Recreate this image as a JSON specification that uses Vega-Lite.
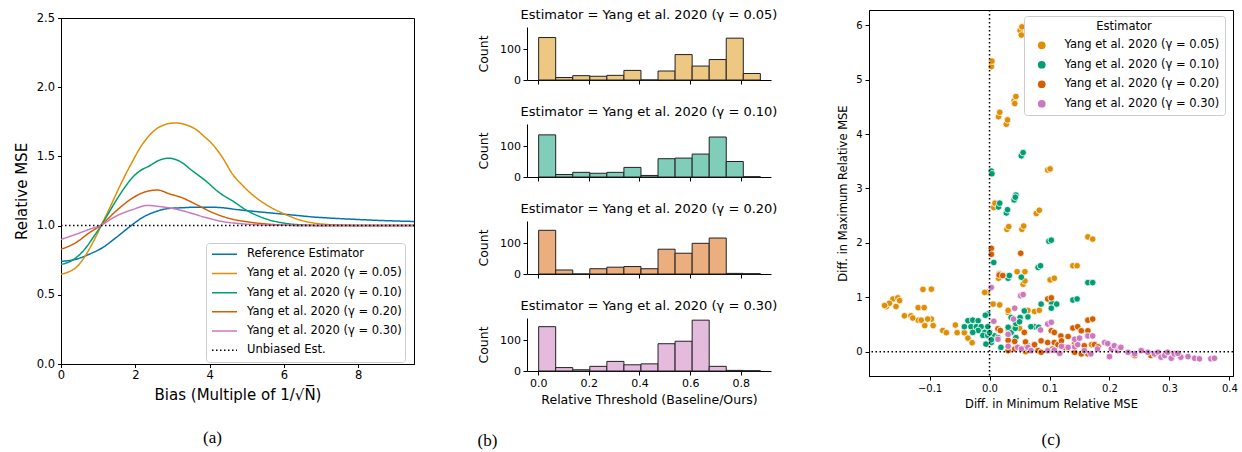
{
  "$schema": "https://vega.github.io/schema/vega-lite/v6.json",
  "background": "white",
  "padding": {"left": 13, "top": 0, "right": 2, "bottom": 2},
  "spacing": 59,
  "config": {
    "font": "DejaVu Sans",
    "view": {"stroke": null},
    "axis": {"grid": false, "domainColor": "#000", "tickColor": "#000", "labelColor": "#000", "titleColor": "#000", "titleFontWeight": "normal", "labelFont": "DejaVu Sans", "titleFont": "DejaVu Sans", "labelFlush": false, "labelBound": false, "labelOverlap": false},
    "title": {"fontWeight": "normal", "color": "#000"},
    "legend": {"labelColor": "#000", "titleColor": "#000", "labelFont": "DejaVu Sans", "titleFont": "DejaVu Sans"}
  },
  "datasets": {
    "none": [],
    "curves": [
      {"s":"Reference Estimator","x":0,"y":0.742},{"s":"Reference Estimator","x":0.4,"y":0.757},{"s":"Reference Estimator","x":0.76,"y":0.793},{"s":"Reference Estimator","x":1.12,"y":0.841},{"s":"Reference Estimator","x":1.48,"y":0.913},{"s":"Reference Estimator","x":1.84,"y":0.99},{"s":"Reference Estimator","x":2.19,"y":1.058},{"s":"Reference Estimator","x":2.55,"y":1.101},{"s":"Reference Estimator","x":2.91,"y":1.124},{"s":"Reference Estimator","x":3.27,"y":1.129},{"s":"Reference Estimator","x":3.63,"y":1.133},{"s":"Reference Estimator","x":4.0,"y":1.133},{"s":"Reference Estimator","x":4.35,"y":1.129},{"s":"Reference Estimator","x":4.7,"y":1.117},{"s":"Reference Estimator","x":5.3,"y":1.1},{"s":"Reference Estimator","x":5.9,"y":1.085},{"s":"Reference Estimator","x":6.4,"y":1.072},{"s":"Reference Estimator","x":6.8,"y":1.062},{"s":"Reference Estimator","x":7.4,"y":1.052},{"s":"Reference Estimator","x":8.0,"y":1.044},{"s":"Reference Estimator","x":8.7,"y":1.036},{"s":"Reference Estimator","x":9.5,"y":1.03},
      {"s":"0.05","x":0,"y":0.648},{"s":"0.05","x":0.2,"y":0.665},{"s":"0.05","x":0.4,"y":0.696},{"s":"0.05","x":0.6,"y":0.76},{"s":"0.05","x":0.76,"y":0.83},{"s":"0.05","x":0.92,"y":0.91},{"s":"0.05","x":1.08,"y":1.0},{"s":"0.05","x":1.28,"y":1.11},{"s":"0.05","x":1.48,"y":1.226},{"s":"0.05","x":1.7,"y":1.35},{"s":"0.05","x":1.93,"y":1.467},{"s":"0.05","x":2.1,"y":1.55},{"s":"0.05","x":2.28,"y":1.62},{"s":"0.05","x":2.55,"y":1.695},{"s":"0.05","x":2.75,"y":1.725},{"s":"0.05","x":2.91,"y":1.738},{"s":"0.05","x":3.1,"y":1.742},{"s":"0.05","x":3.27,"y":1.736},{"s":"0.05","x":3.45,"y":1.72},{"s":"0.05","x":3.63,"y":1.695},{"s":"0.05","x":3.85,"y":1.645},{"s":"0.05","x":4.08,"y":1.587},{"s":"0.05","x":4.35,"y":1.49},{"s":"0.05","x":4.62,"y":1.37},{"s":"0.05","x":4.85,"y":1.3},{"s":"0.05","x":5.1,"y":1.235},{"s":"0.05","x":5.5,"y":1.155},{"s":"0.05","x":6.0,"y":1.085},{"s":"0.05","x":6.5,"y":1.035},{"s":"0.05","x":7.0,"y":1.012},{"s":"0.05","x":7.5,"y":1.004},{"s":"0.05","x":8.0,"y":1.001},{"s":"0.05","x":9.5,"y":1.0},
      {"s":"0.10","x":0,"y":0.72},{"s":"0.10","x":0.31,"y":0.75},{"s":"0.10","x":0.5,"y":0.79},{"s":"0.10","x":0.67,"y":0.84},{"s":"0.10","x":0.88,"y":0.92},{"s":"0.10","x":1.08,"y":1.0},{"s":"0.10","x":1.28,"y":1.09},{"s":"0.10","x":1.48,"y":1.18},{"s":"0.10","x":1.7,"y":1.27},{"s":"0.10","x":1.93,"y":1.35},{"s":"0.10","x":2.15,"y":1.4},{"s":"0.10","x":2.37,"y":1.43},{"s":"0.10","x":2.64,"y":1.472},{"s":"0.10","x":2.91,"y":1.487},{"s":"0.10","x":3.18,"y":1.467},{"s":"0.10","x":3.54,"y":1.395},{"s":"0.10","x":3.9,"y":1.322},{"s":"0.10","x":4.26,"y":1.238},{"s":"0.10","x":4.62,"y":1.178},{"s":"0.10","x":5.0,"y":1.11},{"s":"0.10","x":5.5,"y":1.05},{"s":"0.10","x":6.0,"y":1.018},{"s":"0.10","x":6.5,"y":1.005},{"s":"0.10","x":7.0,"y":1.001},{"s":"0.10","x":9.5,"y":1.0},
      {"s":"0.20","x":0,"y":0.829},{"s":"0.20","x":0.4,"y":0.877},{"s":"0.20","x":0.76,"y":0.948},{"s":"0.20","x":1.08,"y":1.004},{"s":"0.20","x":1.48,"y":1.105},{"s":"0.20","x":1.93,"y":1.2},{"s":"0.20","x":2.28,"y":1.245},{"s":"0.20","x":2.6,"y":1.257},{"s":"0.20","x":2.91,"y":1.23},{"s":"0.20","x":3.27,"y":1.2},{"s":"0.20","x":3.63,"y":1.154},{"s":"0.20","x":4.08,"y":1.094},{"s":"0.20","x":4.62,"y":1.046},{"s":"0.20","x":5.0,"y":1.028},{"s":"0.20","x":5.5,"y":1.012},{"s":"0.20","x":6.0,"y":1.004},{"s":"0.20","x":6.5,"y":1.001},{"s":"0.20","x":9.5,"y":1.0},
      {"s":"0.30","x":0,"y":0.9},{"s":"0.30","x":0.4,"y":0.937},{"s":"0.30","x":0.76,"y":0.973},{"s":"0.30","x":1.08,"y":1.004},{"s":"0.30","x":1.48,"y":1.068},{"s":"0.30","x":1.93,"y":1.116},{"s":"0.30","x":2.33,"y":1.146},{"s":"0.30","x":2.64,"y":1.138},{"s":"0.30","x":3.0,"y":1.124},{"s":"0.30","x":3.45,"y":1.094},{"s":"0.30","x":3.9,"y":1.058},{"s":"0.30","x":4.35,"y":1.029},{"s":"0.30","x":4.7,"y":1.017},{"s":"0.30","x":5.2,"y":1.007},{"s":"0.30","x":5.8,"y":1.002},{"s":"0.30","x":9.5,"y":1.0},
      {"s":"Unbiased Est.","x":0,"y":1.0},{"s":"Unbiased Est.","x":9.5,"y":1.0}
    ],
    "hist": [
      {"e":"0.05","b0":0,"b1":0.0673,"n":137},{"e":"0.05","b0":0.0673,"b1":0.1346,"n":8},{"e":"0.05","b0":0.1346,"b1":0.2019,"n":14},{"e":"0.05","b0":0.2019,"b1":0.2692,"n":12},{"e":"0.05","b0":0.2692,"b1":0.3365,"n":15},{"e":"0.05","b0":0.3365,"b1":0.4038,"n":31},{"e":"0.05","b0":0.4038,"b1":0.4712,"n":0},{"e":"0.05","b0":0.4712,"b1":0.5385,"n":29},{"e":"0.05","b0":0.5385,"b1":0.6058,"n":82},{"e":"0.05","b0":0.6058,"b1":0.6731,"n":45},{"e":"0.05","b0":0.6731,"b1":0.7404,"n":66},{"e":"0.05","b0":0.7404,"b1":0.8077,"n":135},{"e":"0.05","b0":0.8077,"b1":0.875,"n":21},
      {"e":"0.10","b0":0,"b1":0.0673,"n":136},{"e":"0.10","b0":0.0673,"b1":0.1346,"n":8},{"e":"0.10","b0":0.1346,"b1":0.2019,"n":15},{"e":"0.10","b0":0.2019,"b1":0.2692,"n":12},{"e":"0.10","b0":0.2692,"b1":0.3365,"n":15},{"e":"0.10","b0":0.3365,"b1":0.4038,"n":31},{"e":"0.10","b0":0.4038,"b1":0.4712,"n":5},{"e":"0.10","b0":0.4712,"b1":0.5385,"n":59},{"e":"0.10","b0":0.5385,"b1":0.6058,"n":61},{"e":"0.10","b0":0.6058,"b1":0.6731,"n":74},{"e":"0.10","b0":0.6731,"b1":0.7404,"n":129},{"e":"0.10","b0":0.7404,"b1":0.8077,"n":50},{"e":"0.10","b0":0.8077,"b1":0.875,"n":1},
      {"e":"0.20","b0":0,"b1":0.0673,"n":141},{"e":"0.20","b0":0.0673,"b1":0.1346,"n":13},{"e":"0.20","b0":0.1346,"b1":0.2019,"n":0},{"e":"0.20","b0":0.2019,"b1":0.2692,"n":17},{"e":"0.20","b0":0.2692,"b1":0.3365,"n":22},{"e":"0.20","b0":0.3365,"b1":0.4038,"n":24},{"e":"0.20","b0":0.4038,"b1":0.4712,"n":17},{"e":"0.20","b0":0.4712,"b1":0.5385,"n":80},{"e":"0.20","b0":0.5385,"b1":0.6058,"n":67},{"e":"0.20","b0":0.6058,"b1":0.6731,"n":99},{"e":"0.20","b0":0.6731,"b1":0.7404,"n":116},{"e":"0.20","b0":0.7404,"b1":0.8077,"n":2},{"e":"0.20","b0":0.8077,"b1":0.875,"n":1},
      {"e":"0.30","b0":0,"b1":0.0673,"n":143},{"e":"0.30","b0":0.0673,"b1":0.1346,"n":11},{"e":"0.30","b0":0.1346,"b1":0.2019,"n":4},{"e":"0.30","b0":0.2019,"b1":0.2692,"n":15},{"e":"0.30","b0":0.2692,"b1":0.3365,"n":31},{"e":"0.30","b0":0.3365,"b1":0.4038,"n":20},{"e":"0.30","b0":0.4038,"b1":0.4712,"n":23},{"e":"0.30","b0":0.4712,"b1":0.5385,"n":88},{"e":"0.30","b0":0.5385,"b1":0.6058,"n":96},{"e":"0.30","b0":0.6058,"b1":0.6731,"n":164},{"e":"0.30","b0":0.6731,"b1":0.7404,"n":15},{"e":"0.30","b0":0.7404,"b1":0.8077,"n":2},{"e":"0.30","b0":0.8077,"b1":0.875,"n":1}
    ],
    "scatter": [
      {"g":"0.05","a":0.051,"b":5.9},{"g":"0.05","a":0.054,"b":5.97},{"g":"0.05","a":0.053,"b":5.82},{"g":"0.05","a":0.003,"b":5.24},{"g":"0.05","a":0.004,"b":5.34},{"g":"0.05","a":0.041,"b":4.61},{"g":"0.05","a":0.044,"b":4.69},{"g":"0.05","a":0.042,"b":4.56},{"g":"0.05","a":0.015,"b":4.32},{"g":"0.05","a":0.017,"b":4.4},{"g":"0.05","a":0.028,"b":4.18},{"g":"0.05","a":0.03,"b":4.26},{"g":"0.05","a":0.097,"b":3.34},{"g":"0.05","a":0.101,"b":3.36},{"g":"0.05","a":0.007,"b":2.65},{"g":"0.05","a":0.009,"b":2.73},{"g":"0.05","a":0.078,"b":2.54},{"g":"0.05","a":0.083,"b":2.6},{"g":"0.05","a":0.029,"b":2.25},{"g":"0.05","a":0.032,"b":2.3},{"g":"0.05","a":0.054,"b":2.25},{"g":"0.05","a":0.057,"b":2.31},{"g":"0.05","a":0.164,"b":2.11},{"g":"0.05","a":0.172,"b":2.07},{"g":"0.05","a":0.139,"b":1.58},{"g":"0.05","a":0.146,"b":1.58},{"g":"0.05","a":0.046,"b":1.47},{"g":"0.05","a":0.059,"b":1.47},{"g":"0.05","a":0.016,"b":1.43},{"g":"0.05","a":0.015,"b":1.35},{"g":"0.05","a":0.056,"b":1.24},{"g":"0.05","a":0.059,"b":1.3},{"g":"0.05","a":0.101,"b":1.32},{"g":"0.05","a":0.108,"b":1.35},{"g":"0.05","a":-0.004,"b":1.09},{"g":"0.05","a":-0.008,"b":1.09},{"g":"0.05","a":0.006,"b":0.875},{"g":"0.05","a":0.017,"b":0.86},{"g":"0.05","a":0.031,"b":0.72},{"g":"0.05","a":0.031,"b":0.76},{"g":"0.05","a":0.064,"b":0.76},{"g":"0.05","a":0.075,"b":0.74},{"g":"0.05","a":0.083,"b":0.76},{"g":"0.05","a":0.031,"b":0.42},{"g":"0.05","a":0.039,"b":0.43},{"g":"0.05","a":0.05,"b":0.43},{"g":"0.05","a":-0.172,"b":0.83},{"g":"0.05","a":-0.161,"b":0.97},{"g":"0.05","a":-0.153,"b":0.99},{"g":"0.05","a":-0.15,"b":0.94},{"g":"0.05","a":-0.156,"b":0.83},{"g":"0.05","a":-0.167,"b":0.89},{"g":"0.05","a":-0.175,"b":0.85},{"g":"0.05","a":-0.111,"b":1.145},{"g":"0.05","a":-0.097,"b":1.15},{"g":"0.05","a":-0.119,"b":0.81},{"g":"0.05","a":-0.109,"b":0.81},{"g":"0.05","a":-0.142,"b":0.66},{"g":"0.05","a":-0.131,"b":0.66},{"g":"0.05","a":-0.119,"b":0.58},{"g":"0.05","a":-0.128,"b":0.62},{"g":"0.05","a":-0.108,"b":0.48},{"g":"0.05","a":-0.097,"b":0.6},{"g":"0.05","a":-0.094,"b":0.48},{"g":"0.05","a":-0.103,"b":0.6},{"g":"0.05","a":-0.078,"b":0.39},{"g":"0.05","a":-0.072,"b":0.35},{"g":"0.05","a":-0.057,"b":0.49},{"g":"0.05","a":-0.054,"b":0.35},{"g":"0.05","a":-0.042,"b":0.35},{"g":"0.05","a":-0.036,"b":0.25},{"g":"0.05","a":-0.029,"b":0.165},{"g":"0.05","a":-0.114,"b":0.58},{"g":"0.05","a":0.17,"b":0.13},{"g":"0.05","a":0.13,"b":0.05},{"g":"0.05","a":0.24,"b":-0.06},{"g":"0.05","a":0.27,"b":-0.05},{"g":"0.05","a":0.1,"b":0.02},{"g":"0.05","a":0.06,"b":0.0},
      {"g":"0.10","a":0.053,"b":3.6},{"g":"0.10","a":0.056,"b":3.66},{"g":"0.10","a":0.003,"b":3.32},{"g":"0.10","a":0.004,"b":3.27},{"g":"0.10","a":0.041,"b":2.79},{"g":"0.10","a":0.044,"b":2.88},{"g":"0.10","a":0.043,"b":2.84},{"g":"0.10","a":0.015,"b":2.66},{"g":"0.10","a":0.017,"b":2.73},{"g":"0.10","a":0.028,"b":2.55},{"g":"0.10","a":0.03,"b":2.61},{"g":"0.10","a":0.099,"b":2.03},{"g":"0.10","a":0.103,"b":2.05},{"g":"0.10","a":0.007,"b":1.64},{"g":"0.10","a":0.081,"b":1.55},{"g":"0.10","a":0.085,"b":1.58},{"g":"0.10","a":0.031,"b":1.35},{"g":"0.10","a":0.053,"b":1.37},{"g":"0.10","a":0.033,"b":1.4},{"g":"0.10","a":0.164,"b":1.27},{"g":"0.10","a":0.172,"b":1.27},{"g":"0.10","a":0.139,"b":0.95},{"g":"0.10","a":0.146,"b":0.97},{"g":"0.10","a":0.086,"b":0.875},{"g":"0.10","a":0.103,"b":0.91},{"g":"0.10","a":0.112,"b":0.875},{"g":"0.10","a":0.103,"b":0.8},{"g":"0.10","a":0.058,"b":0.75},{"g":"0.10","a":0.064,"b":0.64},{"g":"0.10","a":0.036,"b":0.63},{"g":"0.10","a":0.051,"b":0.63},{"g":"0.10","a":-0.003,"b":0.69},{"g":"0.10","a":-0.007,"b":0.67},{"g":"0.10","a":-0.036,"b":0.57},{"g":"0.10","a":-0.028,"b":0.58},{"g":"0.10","a":-0.019,"b":0.57},{"g":"0.10","a":-0.042,"b":0.46},{"g":"0.10","a":-0.031,"b":0.46},{"g":"0.10","a":-0.022,"b":0.46},{"g":"0.10","a":-0.014,"b":0.46},{"g":"0.10","a":-0.019,"b":0.39},{"g":"0.10","a":-0.028,"b":0.355},{"g":"0.10","a":-0.008,"b":0.355},{"g":"0.10","a":-0.003,"b":0.46},{"g":"0.10","a":-0.011,"b":0.3},{"g":"0.10","a":-0.003,"b":0.3},{"g":"0.10","a":0.008,"b":0.29},{"g":"0.10","a":0.014,"b":0.26},{"g":"0.10","a":0.003,"b":0.17},{"g":"0.10","a":-0.006,"b":0.14},{"g":"0.10","a":0.036,"b":0.355},{"g":"0.10","a":0.044,"b":0.26},{"g":"0.10","a":0.043,"b":0.43},{"g":"0.10","a":0.031,"b":0.45},{"g":"0.10","a":0.044,"b":0.52},{"g":"0.10","a":0.05,"b":0.55},{"g":"0.10","a":0.075,"b":0.46},{"g":"0.10","a":0.082,"b":0.45},{"g":"0.10","a":0.069,"b":0.46},{"g":"0.10","a":0.019,"b":0.08},{"g":"0.10","a":0.003,"b":0.22},{"g":"0.10","a":0.0,"b":0.35},
      {"g":"0.20","a":0.003,"b":1.9},{"g":"0.20","a":0.003,"b":1.79},{"g":"0.20","a":0.052,"b":1.81},{"g":"0.20","a":0.016,"b":1.41},{"g":"0.20","a":0.022,"b":1.4},{"g":"0.20","a":0.097,"b":0.97},{"g":"0.20","a":0.103,"b":0.99},{"g":"0.20","a":0.164,"b":0.58},{"g":"0.20","a":0.172,"b":0.6},{"g":"0.20","a":0.139,"b":0.435},{"g":"0.20","a":0.147,"b":0.46},{"g":"0.20","a":0.164,"b":0.385},{"g":"0.20","a":0.153,"b":0.385},{"g":"0.20","a":0.014,"b":0.42},{"g":"0.20","a":0.018,"b":0.39},{"g":"0.20","a":0.058,"b":0.355},{"g":"0.20","a":0.103,"b":0.385},{"g":"0.20","a":0.108,"b":0.355},{"g":"0.20","a":0.119,"b":0.29},{"g":"0.20","a":0.131,"b":0.28},{"g":"0.20","a":0.031,"b":0.21},{"g":"0.20","a":0.042,"b":0.19},{"g":"0.20","a":0.064,"b":0.11},{"g":"0.20","a":0.075,"b":0.13},{"g":"0.20","a":0.086,"b":0.2},{"g":"0.20","a":0.097,"b":0.17},{"g":"0.20","a":0.108,"b":0.17},{"g":"0.20","a":0.114,"b":0.13},{"g":"0.20","a":0.142,"b":0.15},{"g":"0.20","a":0.158,"b":0.11},{"g":"0.20","a":0.175,"b":0.13},{"g":"0.20","a":0.181,"b":0.09},{"g":"0.20","a":0.031,"b":0.02},{"g":"0.20","a":0.042,"b":0.05},{"g":"0.20","a":0.058,"b":0.06},{"g":"0.20","a":0.081,"b":0.02},{"g":"0.20","a":0.086,"b":-0.01},{"g":"0.20","a":0.153,"b":-0.04},{"g":"0.20","a":0.164,"b":-0.04},{"g":"0.20","a":0.142,"b":-0.01},{"g":"0.20","a":0.242,"b":-0.07},{"g":"0.20","a":0.269,"b":-0.07},{"g":"0.20","a":0.275,"b":-0.05},{"g":"0.20","a":0.105,"b":0.05},{"g":"0.20","a":0.125,"b":0.08},{"g":"0.20","a":0.06,"b":0.18},{"g":"0.20","a":0.12,"b":0.2},
      {"g":"0.30","a":0.003,"b":1.18},{"g":"0.30","a":0.052,"b":1.03},{"g":"0.30","a":0.056,"b":1.05},{"g":"0.30","a":0.042,"b":0.8},{"g":"0.30","a":0.007,"b":0.56},{"g":"0.30","a":0.097,"b":0.51},{"g":"0.30","a":0.103,"b":0.54},{"g":"0.30","a":0.031,"b":0.32},{"g":"0.30","a":0.014,"b":0.23},{"g":"0.30","a":0.031,"b":0.1},{"g":"0.30","a":0.047,"b":0.08},{"g":"0.30","a":0.053,"b":0.05},{"g":"0.30","a":0.064,"b":0.08},{"g":"0.30","a":0.069,"b":0.02},{"g":"0.30","a":0.097,"b":0.02},{"g":"0.30","a":0.108,"b":0.03},{"g":"0.30","a":0.117,"b":-0.03},{"g":"0.30","a":0.131,"b":0.08},{"g":"0.30","a":0.142,"b":0.09},{"g":"0.30","a":0.147,"b":0.13},{"g":"0.30","a":0.164,"b":0.29},{"g":"0.30","a":0.172,"b":0.29},{"g":"0.30","a":0.142,"b":0.23},{"g":"0.30","a":0.15,"b":0.25},{"g":"0.30","a":0.158,"b":0.02},{"g":"0.30","a":0.169,"b":-0.04},{"g":"0.30","a":0.192,"b":0.17},{"g":"0.30","a":0.197,"b":0.15},{"g":"0.30","a":0.203,"b":0.05},{"g":"0.30","a":0.208,"b":0.11},{"g":"0.30","a":0.214,"b":0.02},{"g":"0.30","a":0.2,"b":-0.09},{"g":"0.30","a":0.217,"b":0.08},{"g":"0.30","a":0.219,"b":0.08},{"g":"0.30","a":0.231,"b":-0.01},{"g":"0.30","a":0.242,"b":-0.04},{"g":"0.30","a":0.253,"b":0.02},{"g":"0.30","a":0.264,"b":-0.01},{"g":"0.30","a":0.275,"b":-0.04},{"g":"0.30","a":0.281,"b":-0.01},{"g":"0.30","a":0.286,"b":-0.1},{"g":"0.30","a":0.292,"b":-0.07},{"g":"0.30","a":0.303,"b":-0.12},{"g":"0.30","a":0.308,"b":-0.04},{"g":"0.30","a":0.319,"b":-0.1},{"g":"0.30","a":0.331,"b":-0.09},{"g":"0.30","a":0.342,"b":-0.12},{"g":"0.30","a":0.35,"b":-0.13},{"g":"0.30","a":0.369,"b":-0.13},{"g":"0.30","a":0.375,"b":-0.12},{"g":"0.30","a":0.297,"b":-0.01},{"g":"0.30","a":0.314,"b":-0.03},{"g":"0.30","a":0.04,"b":0.6},{"g":"0.30","a":0.085,"b":0.4},{"g":"0.30","a":0.12,"b":0.1},{"g":"0.30","a":0.18,"b":0.05}
    ]
  },
  "hconcat": [
    {
      "spacing": 0,
      "vconcat": [
        {"width": 1, "height": 11, "data": {"name": "none"}, "mark": "point"},
        {
          "width": 353,
          "height": 346,
          "view": {"stroke": "#000", "strokeWidth": 1},
          "title": {"text": "(a)", "orient": "bottom", "font": "Liberation Serif", "fontSize": 17, "offset": 28, "dx": -25},
          "data": {"name": "curves"},
          "encoding": {
            "x": {"field": "x", "type": "quantitative", "scale": {"domain": [0, 9.5], "nice": false, "zero": false},
              "axis": {"values": [0, 2, 4, 6, 8], "title": "Bias (Multiple of 1/√N̅)", "titleFontSize": 15, "labelFontSize": 11.5, "tickSize": 3.5, "labelPadding": 2, "titlePadding": 6}},
            "y": {"field": "y", "type": "quantitative", "scale": {"domain": [0, 2.5], "nice": false},
              "axis": {"values": [0, 0.5, 1, 1.5, 2, 2.5], "format": ".1f", "title": "Relative MSE", "titleFontSize": 15, "labelFontSize": 11.5, "tickSize": 3.5, "labelPadding": 3, "titlePadding": 7}},
            "color": {"field": "s", "type": "nominal",
              "scale": {"domain": ["Reference Estimator", "0.05", "0.10", "0.20", "0.30", "Unbiased Est."], "range": ["#0173B2", "#DE8F05", "#029E73", "#D55E00", "#CC78BC", "#000000"]},
              "legend": {"title": null, "orient": "none", "legendX": 145, "legendY": 243, "symbolType": "stroke", "symbolSize": 625, "symbolStrokeWidth": 1.5, "labelFontSize": 11.5, "labelOffset": 9, "padding": 3, "clipHeight": 16.5, "rowPadding": 2.2, "symbolOffset": 2, "strokeColor": "#cccccc", "fillColor": "rgba(255,255,255,0.8)", "cornerRadius": 3,
                "labelExpr": "length(datum.label) < 5 ? 'Yang et al. 2020 (γ = ' + datum.label + ')' : datum.label"}},
            "strokeDash": {"field": "s", "type": "nominal",
              "scale": {"domain": ["Reference Estimator", "0.05", "0.10", "0.20", "0.30", "Unbiased Est."], "range": [[1, 0], [1, 0], [1, 0], [1, 0], [1, 0], [1.5, 2.5]]},
              "legend": {"title": null, "orient": "none", "legendX": 145, "legendY": 243, "symbolType": "stroke", "symbolSize": 625, "symbolStrokeWidth": 1.5, "labelFontSize": 11.5, "labelOffset": 9, "padding": 3, "clipHeight": 16.5, "rowPadding": 2.2, "symbolOffset": 2, "strokeColor": "#cccccc", "fillColor": "rgba(255,255,255,0.8)", "cornerRadius": 3,
                "labelExpr": "length(datum.label) < 5 ? 'Yang et al. 2020 (γ = ' + datum.label + ')' : datum.label"}}
          },
          "layer": [
            {"transform": [{"filter": "datum.s !== 'Unbiased Est.'"}], "mark": {"type": "line", "strokeWidth": 1.5, "interpolate": "monotone"}},
            {"transform": [{"filter": "datum.s === 'Unbiased Est.'"}], "mark": {"type": "line", "strokeWidth": 1.5}}
          ]
        }
      ]
    },
    {
      "spacing": 0,
      "vconcat": [
        {"width": 1, "height": 9, "data": {"name": "none"}, "mark": "point"},
        {
          "spacing": 21,
          "title": {"text": "(b)", "orient": "bottom", "font": "Liberation Serif", "fontSize": 17, "offset": 27},
          "vconcat": [
            {
              "width": 244, "height": 53,
              "title": {"text": "Estimator = Yang et al. 2020 (γ = 0.05)", "fontSize": 13, "offset": 5},
              "data": {"name": "hist"},
              "transform": [{"filter": "datum.e === '0.05'"}],
              "mark": {"type": "bar", "fill": "#EEC782", "stroke": "#222222", "strokeWidth": 1, "binSpacing": 0},
              "encoding": {
                "x": {"field": "b0", "type": "quantitative", "bin": "binned", "scale": {"domain": [-0.044, 0.919], "nice": false, "zero": false}, "axis": {"values": [0, 0.2, 0.4, 0.6, 0.8], "labels": false, "title": null, "tickSize": 4}},
                "x2": {"field": "b1"},
                "y": {"field": "n", "type": "quantitative", "scale": {"domain": [0, 171], "nice": false}, "axis": {"values": [0, 100], "title": "Count", "titleFontSize": 12.5, "labelFontSize": 11, "tickSize": 4, "labelPadding": 2.5, "titlePadding": 9}}
              }
            },
            {
              "width": 244, "height": 53,
              "title": {"text": "Estimator = Yang et al. 2020 (γ = 0.10)", "fontSize": 13, "offset": 5},
              "data": {"name": "hist"},
              "transform": [{"filter": "datum.e === '0.10'"}],
              "mark": {"type": "bar", "fill": "#80CEB9", "stroke": "#222222", "strokeWidth": 1, "binSpacing": 0},
              "encoding": {
                "x": {"field": "b0", "type": "quantitative", "bin": "binned", "scale": {"domain": [-0.044, 0.919], "nice": false, "zero": false}, "axis": {"values": [0, 0.2, 0.4, 0.6, 0.8], "labels": false, "title": null, "tickSize": 4}},
                "x2": {"field": "b1"},
                "y": {"field": "n", "type": "quantitative", "scale": {"domain": [0, 171], "nice": false}, "axis": {"values": [0, 100], "title": "Count", "titleFontSize": 12.5, "labelFontSize": 11, "tickSize": 4, "labelPadding": 2.5, "titlePadding": 9}}
              }
            },
            {
              "width": 244, "height": 53,
              "title": {"text": "Estimator = Yang et al. 2020 (γ = 0.20)", "fontSize": 13, "offset": 5},
              "data": {"name": "hist"},
              "transform": [{"filter": "datum.e === '0.20'"}],
              "mark": {"type": "bar", "fill": "#EAAE7F", "stroke": "#222222", "strokeWidth": 1, "binSpacing": 0},
              "encoding": {
                "x": {"field": "b0", "type": "quantitative", "bin": "binned", "scale": {"domain": [-0.044, 0.919], "nice": false, "zero": false}, "axis": {"values": [0, 0.2, 0.4, 0.6, 0.8], "labels": false, "title": null, "tickSize": 4}},
                "x2": {"field": "b1"},
                "y": {"field": "n", "type": "quantitative", "scale": {"domain": [0, 171], "nice": false}, "axis": {"values": [0, 100], "title": "Count", "titleFontSize": 12.5, "labelFontSize": 11, "tickSize": 4, "labelPadding": 2.5, "titlePadding": 9}}
              }
            },
            {
              "width": 244, "height": 53,
              "title": {"text": "Estimator = Yang et al. 2020 (γ = 0.30)", "fontSize": 13, "offset": 5},
              "data": {"name": "hist"},
              "transform": [{"filter": "datum.e === '0.30'"}],
              "mark": {"type": "bar", "fill": "#E5BBDD", "stroke": "#222222", "strokeWidth": 1, "binSpacing": 0},
              "encoding": {
                "x": {"field": "b0", "type": "quantitative", "bin": "binned", "scale": {"domain": [-0.044, 0.919], "nice": false, "zero": false}, "axis": {"values": [0, 0.2, 0.4, 0.6, 0.8], "format": ".1f", "title": "Relative Threshold (Baseline/Ours)", "titleFontSize": 12.5, "labelFontSize": 11, "tickSize": 4, "labelPadding": 2.5, "titlePadding": 5}},
                "x2": {"field": "b1"},
                "y": {"field": "n", "type": "quantitative", "scale": {"domain": [0, 171], "nice": false}, "axis": {"values": [0, 100], "title": "Count", "titleFontSize": 12.5, "labelFontSize": 11, "tickSize": 4, "labelPadding": 2.5, "titlePadding": 9}}
              }
            }
          ]
        }
      ]
    },
    {
      "spacing": 0,
      "vconcat": [
        {"width": 1, "height": 8, "data": {"name": "none"}, "mark": "point"},
        {
          "width": 364,
          "height": 366,
          "view": {"stroke": "#000", "strokeWidth": 1},
          "title": {"text": "(c)", "orient": "bottom", "font": "Liberation Serif", "fontSize": 17, "offset": 22},
          "layer": [
            {
              "data": {"name": "scatter"},
              "mark": {"type": "circle", "size": 44, "stroke": "white", "strokeWidth": 0.8, "opacity": 1},
              "encoding": {
                "x": {"field": "a", "type": "quantitative", "scale": {"domain": [-0.201, 0.406], "nice": false, "zero": false},
                  "axis": {"values": [-0.1, 0, 0.1, 0.2, 0.3, 0.4], "format": ".1f", "title": "Diff. in Minimum Relative MSE", "titleFontSize": 11.5, "labelFontSize": 10, "tickSize": 4, "labelPadding": 3, "titlePadding": 5}},
                "y": {"field": "b", "type": "quantitative", "scale": {"domain": [-0.446, 6.28], "nice": false, "zero": false},
                  "axis": {"values": [0, 1, 2, 3, 4, 5, 6], "format": "d", "title": "Diff. in Maximum Relative MSE", "titleFontSize": 11.5, "labelFontSize": 10, "tickSize": 4, "labelPadding": 3, "titlePadding": 7}},
                "fill": {"field": "g", "type": "nominal",
                  "scale": {"domain": ["0.05", "0.10", "0.20", "0.30"], "range": ["#DE8F05", "#029E73", "#D55E00", "#CC78BC"]},
                  "legend": {"title": "Estimator", "titleFontSize": 11.5, "titleFontWeight": "normal", "titleAnchor": "middle", "titlePadding": 7, "orient": "none", "legendX": 963, "legendY": 16, "symbolType": "circle", "symbolSize": 60, "symbolStrokeWidth": 0, "labelFontSize": 11.5, "labelOffset": 17, "padding": 5, "rowPadding": 6.5, "symbolOffset": 7, "strokeColor": "#cccccc", "fillColor": "rgba(255,255,255,0.8)", "cornerRadius": 3,
                    "labelExpr": "'Yang et al. 2020 (γ = ' + datum.label + ')'"}}
              }
            },
            {
              "data": {"values": [{"v": 0}]},
              "mark": {"type": "rule", "color": "#000", "strokeWidth": 1.5, "strokeDash": [1.5, 2.5]},
              "encoding": {"x": {"field": "v", "type": "quantitative"}}
            },
            {
              "data": {"values": [{"v": 0}]},
              "mark": {"type": "rule", "color": "#000", "strokeWidth": 1.5, "strokeDash": [1.5, 2.5]},
              "encoding": {"y": {"field": "v", "type": "quantitative"}}
            }
          ]
        }
      ]
    }
  ]
}
